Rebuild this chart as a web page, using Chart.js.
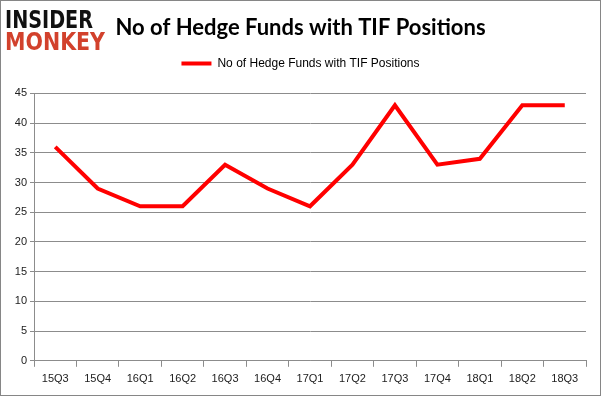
<!DOCTYPE html>
<html>
<head>
<meta charset="utf-8">
<script src="https://cdn.jsdelivr.net/npm/chart.js@4/dist/chart.umd.min.js"></script>
<style>
  html, body { margin: 0; padding: 0; background: #fff; }
  #wrap { width: 601px; height: 396px; }
</style>
</head>
<body>
<div id="wrap"><canvas id="c" width="601" height="396"></canvas></div>
<script>
// данные графика
const quarters = ["15Q3", "15Q4", "16Q1", "16Q2", "16Q3", "16Q4", "17Q1", "17Q2", "17Q3", "17Q4", "18Q1", "18Q2", "18Q3"];
const fundCounts = [36, 29, 26, 26, 33, 29, 26, 33, 43, 33, 34, 43, 43];
const seriesName = "No of Hedge Funds with TIF Positions";
const chartTitle = "No of Hedge Funds with TIF Positions";
const yMax = 45, yStep = 5;

const GRID = "#8c8c8c";
const FONT = "'Liberation Sans', Arial, sans-serif";

// рамка и логотип
const decor = {
  id: "decor",
  beforeDraw(chart) {
    const ctx = chart.ctx;
    ctx.save();
    ctx.fillStyle = "#fff";
    ctx.fillRect(0, 0, chart.width, chart.height);
    ctx.restore();
  },
  afterDraw(chart) {
    const ctx = chart.ctx;
    ctx.save();
    ctx.strokeStyle = "#868686";
    ctx.lineWidth = 1;
    ctx.strokeRect(0.5, 0.5, chart.width - 1, chart.height - 1);
    ctx.textBaseline = "alphabetic";
    ctx.font = "bold 24px 'DejaVu Sans'";
    ctx.fillStyle = "#111";
    ctx.fillText("INSIDER", 5, 28, 88);
    ctx.fillStyle = "#d2412c";
    ctx.fillText("MONKEY", 5, 50, 100);
    ctx.restore();
  }
};

// лишнее место под легендой
const legendGap = {
  id: "legendGap",
  beforeLayout(chart) {
    const lg = chart.legend;
    if (!lg || lg._gapPatched) return;
    const fit = lg.fit;
    lg.fit = function () { fit.call(this); this.height += 14; };
    lg._gapPatched = true;
  }
};

new Chart(document.getElementById("c"), {
  type: "line",
  data: {
    labels: quarters,
    datasets: [{
      label: seriesName,
      data: fundCounts,
      borderColor: "#ff0000",
      backgroundColor: "#ff0000",
      borderWidth: 4,
      pointRadius: 0,
      tension: 0,
    }],
  },
  options: {
    responsive: false,
    animation: false,
    layout: { padding: { left: 15, right: 15, top: 0, bottom: 4 } },
    plugins: {
      title: {
        display: true,
        text: chartTitle,
        color: "#000",
        font: { family: "Lato, sans-serif", size: 22, weight: "bold" },
        padding: { top: 15, bottom: 4 },
      },
      legend: {
        display: true,
        labels: {
          color: "#000",
          font: { family: FONT, size: 12 },
          boxWidth: 30,
          boxHeight: 4,
          padding: 12,
          generateLabels: (chart) => [{
            text: seriesName,
            fillStyle: "#ff0000",
            strokeStyle: "#ff0000",
            lineWidth: 0,
            datasetIndex: 0,
          }],
        },
      },
      tooltip: { enabled: false },
    },
    scales: {
      x: {
        offset: true,
        grid: { display: true, drawOnChartArea: false, drawTicks: true, tickLength: 6, offset: true, color: GRID },
        border: { display: true, color: GRID },
        ticks: { color: "#222", font: { family: FONT, size: 11 }, padding: 6, maxRotation: 0 },
      },
      y: {
        min: 0,
        max: yMax,
        grid: { color: GRID, tickLength: 4 },
        border: { display: true, color: GRID },
        ticks: { stepSize: yStep, color: "#222", font: { family: FONT, size: 11 }, padding: 3 },
        afterFit: (scale) => { scale.width = 19; },
      },
    },
  },
  plugins: [decor, legendGap],
});
</script>
</body>
</html>
